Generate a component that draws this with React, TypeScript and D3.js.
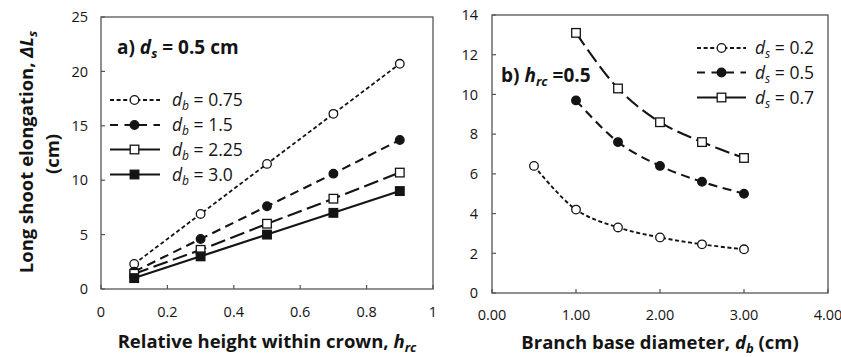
import React from "react";
import * as d3 from "d3";

// ---------- Data ----------
const hrcValues = [0.1, 0.3, 0.5, 0.7, 0.9];
const db075 = [2.3, 6.9, 11.5, 16.1, 20.7];
const db150 = [1.6, 4.6, 7.6, 10.6, 13.7];
const db225 = [1.4, 3.6, 6.0, 8.3, 10.7];
const db300 = [1.0, 3.0, 5.0, 7.0, 9.0];
const seriesALabels = ["0.75", "1.5", "2.25", "3.0"];

const dbValuesShort = [0.5, 1.0, 1.5, 2.0, 2.5, 3.0];
const dbValues = [1.0, 1.5, 2.0, 2.5, 3.0];
const ds02 = [6.4, 4.2, 3.3, 2.8, 2.45, 2.2];
const ds05 = [9.7, 7.6, 6.4, 5.6, 5.0];
const ds07 = [13.1, 10.3, 8.6, 7.6, 6.8];
const seriesBLabels = ["0.2", "0.5", "0.7"];

const xTicksA = [0, 0.2, 0.4, 0.6, 0.8, 1];
const xTickLabelsA = ["0", "0.2", "0.4", "0.6", "0.8", "1"];
const yTicksA = [0, 5, 10, 15, 20, 25];
const xTicksB = [0, 1, 2, 3, 4];
const xTickLabelsB = ["0.00", "1.00", "2.00", "3.00", "4.00"];
const yTicksB = [0, 2, 4, 6, 8, 10, 12, 14];

const FONT = "'Open Sans', Lato, sans-serif";
const INK = "#141414";

type Marker = "openCircle" | "filledCircle" | "openSquare" | "filledSquare";

function MarkerShape({ type, x, y }: { type: Marker; x: number; y: number }) {
  const r = 4.3;
  const s = 8.6;
  if (type === "openCircle" || type === "filledCircle") {
    return (
      <circle cx={x} cy={y} r={r} fill={type === "openCircle" ? "#fff" : INK} stroke={INK} strokeWidth={1.3} />
    );
  }
  return (
    <rect x={x - s / 2} y={y - s / 2} width={s} height={s} fill={type === "openSquare" ? "#fff" : INK} stroke={INK} strokeWidth={1.3} />
  );
}

const dashShort = "4,2.6";
const dashMed = "9,5.5";
const dashLong = "15,5.5";

export default function App() {
  // Panel A
  const xA = d3.scaleLinear().domain([0, 1]).range([101, 433]);
  const yA = d3.scaleLinear().domain([0, 25]).range([289, 17]);
  // Panel B
  const xB = d3.scaleLinear().domain([0, 4]).range([492, 828]);
  const yB = d3.scaleLinear().domain([0, 14]).range([293, 15]);

  const seriesA = [
    { vals: db075, marker: "openCircle" as Marker, dash: dashShort, width: 1.8, legendDash: dashShort },
    { vals: db150, marker: "filledCircle" as Marker, dash: dashMed, width: 2.1, legendDash: "8,6.5" },
    { vals: db225, marker: "openSquare" as Marker, dash: dashLong, width: 2.1, legendDash: "none" },
    { vals: db300, marker: "filledSquare" as Marker, dash: "none", width: 2.1, legendDash: "none" },
  ];

  const seriesB = [
    { xs: dbValuesShort, vals: ds02, marker: "openCircle" as Marker, dash: dashShort, width: 1.9, legendDash: dashShort },
    { xs: dbValues, vals: ds05, marker: "filledCircle" as Marker, dash: dashMed, width: 2.1, legendDash: "8,6.5" },
    { xs: dbValues, vals: ds07, marker: "openSquare" as Marker, dash: dashLong, width: 2.1, legendDash: "none" },
  ];

  const lineA = d3
    .line<[number, number]>()
    .x((d) => xA(d[0]))
    .y((d) => yA(d[1]));
  const lineB = d3
    .line<[number, number]>()
    .x((d) => xB(d[0]))
    .y((d) => yB(d[1]))
    .curve(d3.curveCatmullRom.alpha(0.5));

  const legendAY = [100, 125, 149.5, 174.5];
  const legendBY = [48, 72.5, 97.5];

  return (
    <svg
      width={841}
      height={357}
      style={{ position: "absolute", left: 0, top: 0, background: "#fff" }}
      fontFamily={FONT}
    >
      {/* ================= Panel A ================= */}
      <rect x={101} y={17} width={332} height={272} fill="none" stroke="#555" strokeWidth={1.3} />
      {yTicksA.map((t) => (
        <g key={"ya" + t}>
          <line x1={101} x2={105} y1={yA(t)} y2={yA(t)} stroke="#555" strokeWidth={1.2} />
          <text x={88} y={yA(t)} dy="0.36em" textAnchor="end" fontSize={14.5} fill={INK}>
            {t}
          </text>
        </g>
      ))}
      {xTicksA.map((t, i) => (
        <g key={"xa" + t}>
          <line x1={xA(t)} x2={xA(t)} y1={289} y2={285} stroke="#555" strokeWidth={1.2} />
          <text x={xA(t)} y={317} textAnchor="middle" fontSize={14.5} fill={INK}>
            {xTickLabelsA[i]}
          </text>
        </g>
      ))}
      {seriesA.map((s, i) => (
        <path
          key={"la" + i}
          d={lineA(hrcValues.map((h, j) => [h, s.vals[j]] as [number, number])) || ""}
          fill="none"
          stroke={INK}
          strokeWidth={s.width}
          strokeDasharray={s.dash}
        />
      ))}
      {seriesA.map((s, i) =>
        hrcValues.map((h, j) => <MarkerShape key={"ma" + i + "-" + j} type={s.marker} x={xA(h)} y={yA(s.vals[j])} />)
      )}
      {/* annotation a */}
      <text x={117} y={54} fontSize={19} fontWeight="bold" fill={INK}>
        a){" "}
        <tspan fontStyle="italic">d</tspan>
        <tspan fontStyle="italic" fontSize={13} dy={4}>s</tspan>
        <tspan dy={-4}> = 0.5 cm</tspan>
      </text>
      {/* legend a */}
      {seriesA.map((s, i) => (
        <g key={"lga" + i}>
          <line x1={110} x2={160} y1={legendAY[i]} y2={legendAY[i]} stroke={INK} strokeWidth={s.width} strokeDasharray={s.legendDash} />
          <MarkerShape type={s.marker} x={134.5} y={legendAY[i]} />
          <text x={172} y={legendAY[i] + 6} fontSize={17.5} fill={INK}>
            <tspan fontStyle="italic">d</tspan>
            <tspan fontStyle="italic" fontSize={12} dy={4}>b</tspan>
            <tspan dy={-4}> = {seriesALabels[i]}</tspan>
          </text>
        </g>
      ))}
      {/* axis titles a */}
      <text x={267} y={348} textAnchor="middle" fontSize={18.5} fontWeight="bold" fill={INK}>
        Relative height within crown,{" "}
        <tspan fontStyle="italic">h</tspan>
        <tspan fontStyle="italic" fontSize={13} dy={4}>rc</tspan>
      </text>
      <text transform="translate(33,152) rotate(-90)" textAnchor="middle" fontSize={18.5} fontWeight="bold" fill={INK}>
        Long shoot elongation, <tspan fontStyle="italic">ΔL</tspan>
        <tspan fontStyle="italic" fontSize={13} dy={4}>s</tspan>
      </text>
      <text transform="translate(59,154) rotate(-90)" textAnchor="middle" fontSize={18.5} fontWeight="bold" fill={INK}>
        (cm)
      </text>

      {/* ================= Panel B ================= */}
      <rect x={492} y={15} width={336} height={278} fill="none" stroke="#555" strokeWidth={1.3} />
      {yTicksB.map((t) => (
        <g key={"yb" + t}>
          <line x1={492} x2={496} y1={yB(t)} y2={yB(t)} stroke="#555" strokeWidth={1.2} />
          <text x={478} y={yB(t)} dy="0.36em" textAnchor="end" fontSize={14.5} fill={INK}>
            {t}
          </text>
        </g>
      ))}
      {xTicksB.map((t, i) => (
        <g key={"xb" + t}>
          <line x1={xB(t)} x2={xB(t)} y1={293} y2={289} stroke="#555" strokeWidth={1.2} />
          <text x={xB(t)} y={320} textAnchor="middle" fontSize={14.5} fill={INK}>
            {xTickLabelsB[i]}
          </text>
        </g>
      ))}
      {seriesB.map((s, i) => (
        <path
          key={"lb" + i}
          d={lineB(s.xs.map((x, j) => [x, s.vals[j]] as [number, number])) || ""}
          fill="none"
          stroke={INK}
          strokeWidth={s.width}
          strokeDasharray={s.dash}
        />
      ))}
      {seriesB.map((s, i) =>
        s.xs.map((x, j) => <MarkerShape key={"mb" + i + "-" + j} type={s.marker} x={xB(x)} y={yB(s.vals[j])} />)
      )}
      {/* annotation b */}
      <text x={501} y={82} fontSize={19} fontWeight="bold" fill={INK}>
        b){" "}
        <tspan fontStyle="italic">h</tspan>
        <tspan fontStyle="italic" fontSize={13} dy={4}>rc</tspan>
        <tspan dy={-4}> =0.5</tspan>
      </text>
      {/* legend b */}
      {seriesB.map((s, i) => (
        <g key={"lgb" + i}>
          <line x1={697} x2={746} y1={legendBY[i]} y2={legendBY[i]} stroke={INK} strokeWidth={s.width} strokeDasharray={s.legendDash} />
          <MarkerShape type={s.marker} x={721.5} y={legendBY[i]} />
          <text x={755} y={legendBY[i] + 6} fontSize={17.5} fill={INK}>
            <tspan fontStyle="italic">d</tspan>
            <tspan fontStyle="italic" fontSize={12} dy={4}>s</tspan>
            <tspan dy={-4}> = {seriesBLabels[i]}</tspan>
          </text>
        </g>
      ))}
      <text x={660} y={349} textAnchor="middle" fontSize={18.5} fontWeight="bold" fill={INK}>
        Branch base diameter, <tspan fontStyle="italic">d</tspan>
        <tspan fontStyle="italic" fontSize={13} dy={3.5}>b</tspan>
        <tspan dy={-3.5}> (cm)</tspan>
      </text>
    </svg>
  );
}
